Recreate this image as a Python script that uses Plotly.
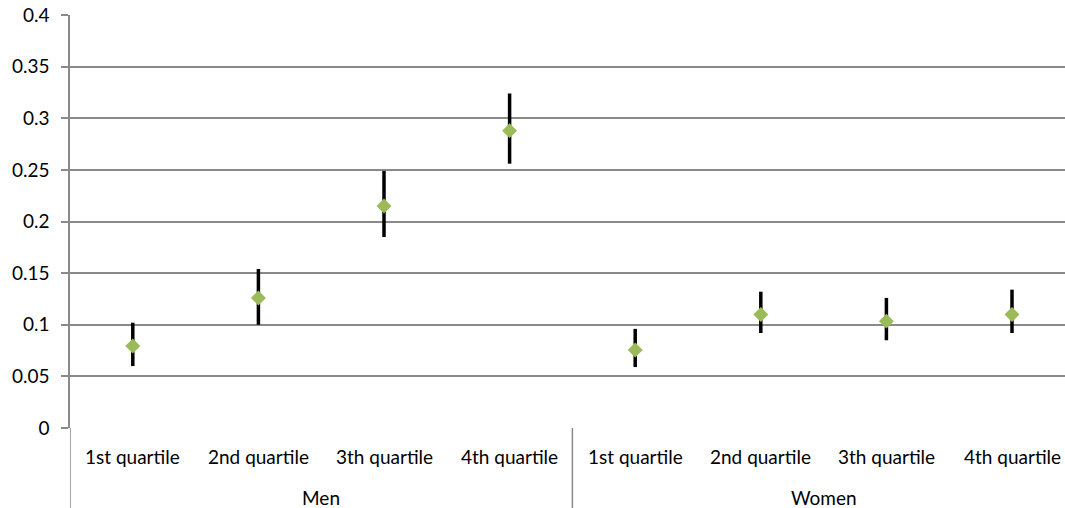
import plotly.graph_objects as go

quartiles = ["1st quartile", "2nd quartile", "3th quartile", "4th quartile"]
groups = ["Men", "Women"]
estimate = [0.0795, 0.126, 0.215, 0.288, 0.0755, 0.110, 0.1035, 0.110]
upper = [0.102, 0.154, 0.249, 0.324, 0.096, 0.132, 0.126, 0.134]
lower = [0.060, 0.100, 0.185, 0.256, 0.059, 0.092, 0.085, 0.092]
y_ticks = [0, 0.05, 0.1, 0.15, 0.2, 0.25, 0.3, 0.35, 0.4]
y_tick_text = ["0", "0.05", "0.1", "0.15", "0.2", "0.25", "0.3", "0.35", "0.4"]

n = len(estimate)
xs = list(range(n))
err_plus = [u - e for u, e in zip(upper, estimate)]
err_minus = [e - l for e, l in zip(estimate, lower)]

W, H = 1065, 508
ML, MT, MB = 70, 15, 80
px_per_cat = 125.6
x_hi = -0.5 + (W - ML) / px_per_cat

FONT = "Lato"
FS = 19
GRID = "#8a8a8a"

fig = go.Figure()
fig.add_trace(go.Scatter(
    x=xs, y=estimate, mode="markers",
    marker=dict(symbol="diamond", size=11.5, color="#9bbb59", line=dict(width=0)),
    error_y=dict(type="data", symmetric=False, array=err_plus, arrayminus=err_minus,
                 color="black", thickness=3.5, width=0),
    showlegend=False,
))

plot_h = H - MT - MB
annotations = []
for i, q in enumerate(quartiles * len(groups)):
    annotations.append(dict(x=i, y=-28 / plot_h, xref="x", yref="paper", text=q,
                            showarrow=False, font=dict(family=FONT, size=FS, color="#000"),
                            xanchor="center", yanchor="middle"))
for g_i, g in enumerate(groups):
    cx = g_i * len(quartiles) + (len(quartiles) - 1) / 2
    annotations.append(dict(x=cx, y=-69 / plot_h, xref="x", yref="paper", text=g,
                            showarrow=False, font=dict(family=FONT, size=FS, color="#000"),
                            xanchor="center", yanchor="middle"))

shapes = []
shapes.append(dict(type="line", xref="x", yref="paper", x0=-0.5, x1=-0.5,
                   y0=0, y1=-MB / plot_h, line=dict(color=GRID, width=1.5)))
shapes.append(dict(type="line", xref="x", yref="paper", x0=3.5, x1=3.5,
                   y0=0, y1=-MB / plot_h, line=dict(color=GRID, width=1.5)))

fig.update_layout(
    width=W, height=H,
    margin=dict(l=ML, r=0, t=MT, b=MB),
    paper_bgcolor="white", plot_bgcolor="white",
    font=dict(family=FONT, size=FS, color="#000"),
    xaxis=dict(range=[-0.5, x_hi], showticklabels=False, showgrid=False, zeroline=False,
               showline=False, ticks=""),
    yaxis=dict(range=[0, 0.4], tickvals=y_ticks, ticktext=y_tick_text,
               showgrid=True, gridcolor=GRID, gridwidth=1.5, zeroline=False,
               showline=True, linecolor=GRID, linewidth=1.5,
               ticks="outside", ticklen=7, tickcolor=GRID, tickwidth=1.5,
               ticklabelstandoff=8,
               tickfont=dict(family=FONT, size=FS, color="#000")),
    annotations=annotations,
    shapes=shapes,
)

fig.write_html("out.html",
               config={"displayModeBar": False},
               post_script="document.body.style.margin='0';document.body.style.overflow='hidden';")
